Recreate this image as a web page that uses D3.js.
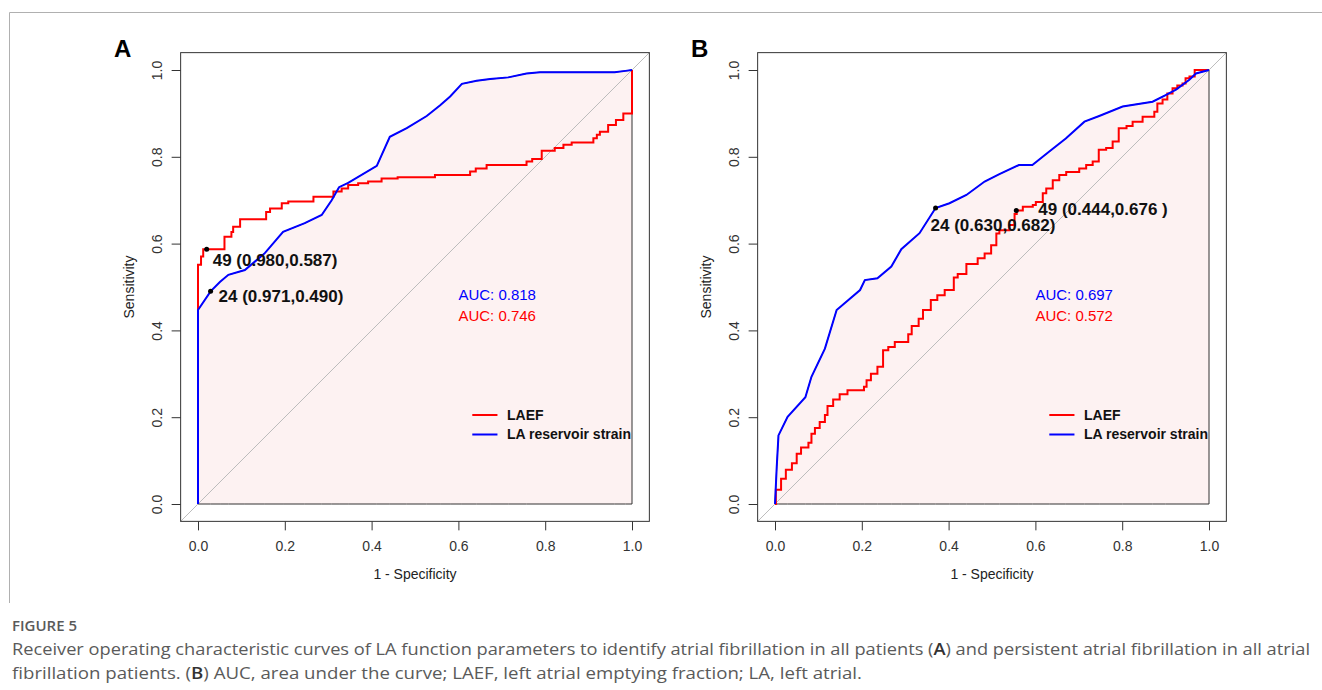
<!DOCTYPE html>
<html>
<head>
<meta charset="utf-8">
<script src="https://cdn.jsdelivr.net/npm/d3@7"></script>
<style>
  body { margin: 0; background: #fff; }
  svg { display: block; }
</style>
</head>
<body>
<svg id="chart"></svg>
<script>
// [1 - specificity, sensitivity]
const laefA = [[0,0],[0,0.551],[0.007,0.570],[0.012,0.587],[0.061,0.616],[0.077,0.627],[0.081,0.639],[0.097,0.656],
  [0.157,0.673],[0.166,0.681],[0.193,0.693],[0.208,0.697],[0.266,0.708],[0.312,0.720],[0.331,0.727],[0.346,0.735],
  [0.369,0.739],[0.392,0.743],[0.423,0.750],[0.460,0.753],[0.546,0.758],[0.627,0.766],[0.640,0.773],[0.665,0.781],
  [0.757,0.789],[0.770,0.795],[0.792,0.814],[0.822,0.820],[0.842,0.828],[0.861,0.833],[0.911,0.843],[0.919,0.851],
  [0.926,0.858],[0.945,0.873],[0.963,0.885],[0.980,0.900],[1,1]];
const strainA = [[0,0],[0,0.447],[0.029,0.490],[0.051,0.512],[0.070,0.528],[0.108,0.539],[0.154,0.578],[0.196,0.627],
  [0.246,0.647],[0.285,0.666],[0.308,0.700],[0.325,0.730],[0.346,0.740],[0.412,0.779],[0.442,0.846],[0.481,0.866],
  [0.527,0.894],[0.558,0.919],[0.581,0.939],[0.608,0.968],[0.642,0.975],[0.673,0.979],[0.715,0.983],[0.757,0.992],
  [0.788,0.995],[0.960,0.995],[0.985,0.998],[1,1]];
const laefB = [[0,0],[0.002,0.033],[0.014,0.058],[0.025,0.079],[0.039,0.094],[0.050,0.116],[0.060,0.130],[0.077,0.141],
  [0.084,0.162],[0.092,0.175],[0.103,0.189],[0.115,0.205],[0.121,0.226],[0.134,0.241],[0.149,0.253],[0.167,0.262],
  [0.205,0.270],[0.211,0.285],[0.221,0.300],[0.236,0.316],[0.249,0.354],[0.261,0.362],[0.276,0.373],[0.307,0.391],
  [0.315,0.410],[0.331,0.427],[0.341,0.447],[0.359,0.470],[0.374,0.481],[0.391,0.493],[0.412,0.522],[0.421,0.530],
  [0.441,0.553],[0.467,0.566],[0.483,0.577],[0.498,0.596],[0.510,0.623],[0.517,0.631],[0.540,0.643],[0.552,0.668],
  [0.557,0.676],[0.571,0.685],[0.594,0.689],[0.601,0.696],[0.617,0.716],[0.625,0.727],[0.640,0.746],[0.655,0.758],
  [0.671,0.765],[0.701,0.773],[0.717,0.781],[0.732,0.789],[0.746,0.816],[0.763,0.820],[0.778,0.835],[0.792,0.866],
  [0.810,0.871],[0.824,0.881],[0.847,0.892],[0.874,0.904],[0.881,0.923],[0.893,0.932],[0.904,0.946],[0.916,0.958],
  [0.927,0.964],[0.939,0.969],[0.946,0.981],[0.955,0.985],[0.967,1],[1,1]];
const strainB = [[0,0],[0.004,0.086],[0.008,0.158],[0.029,0.201],[0.070,0.246],[0.084,0.293],[0.115,0.358],[0.142,0.447],
  [0.196,0.493],[0.207,0.516],[0.236,0.520],[0.268,0.547],[0.291,0.587],[0.333,0.624],[0.370,0.682],[0.402,0.693],
  [0.441,0.712],[0.483,0.743],[0.517,0.760],[0.562,0.781],[0.593,0.781],[0.632,0.812],[0.670,0.842],[0.713,0.881],
  [0.747,0.894],[0.801,0.916],[0.870,0.927],[0.900,0.942],[0.924,0.955],[0.954,0.977],[0.970,0.992],[1,1]];

const aucA = [0.818, 0.746];   // strain, LAEF
const aucB = [0.697, 0.572];
const cutsA = [{ text: "49 (0.980,0.587)", spec: 0.980, sens: 0.587 },
               { text: "24 (0.971,0.490)", spec: 0.971, sens: 0.490 }];
const cutsB = [{ text: "24 (0.630,0.682)", spec: 0.630, sens: 0.682 },
               { text: "49 (0.444,0.676 )", spec: 0.444, sens: 0.676 }];
const seriesNames = ["LAEF", "LA reservoir strain"];
const xTicks = [0, 0.2, 0.4, 0.6, 0.8, 1.0];
const yTicks = [0, 0.2, 0.4, 0.6, 0.8, 1.0];

const RED = "#ff0000", BLUE = "#0000ff";
const FONT = "'Liberation Sans', Arial, sans-serif";

const svg = d3.select("#chart").attr("width", 1322).attr("height", 690);

// border round the figure image
svg.append("path")
  .attr("d", "M9.5,603 V12.5 H1322")
  .attr("fill", "none")
  .attr("stroke", "#b0b0b0");

const panels = [
  { id: "A", left: 198, laef: laefA, strain: strainA, auc: aucA, cuts: cutsA, shift: [[6, 11], [8, 5]] },
  { id: "B", left: 775, laef: laefB, strain: strainB, auc: aucB, cuts: cutsB, shift: [[-5, 17], [22, -2]] }
];

panels.forEach(p => {
  const x = d3.scaleLinear().domain([0, 1]).range([p.left, p.left + 434]);
  const y = d3.scaleLinear().domain([0, 1]).range([504, 70]);
  const g = svg.append("g").attr("font-family", FONT);

  // shaded area under the strain curve
  const area = d3.area().x(d => x(d[0])).y0(y(0)).y1(d => y(d[1]));
  g.append("path")
    .attr("d", area(p.strain))
    .attr("fill", "#fdf2f2")
    .attr("stroke", "#333")
    .attr("stroke-width", 1);

  // diagonal
  g.append("line")
    .attr("x1", x(-0.04)).attr("y1", y(-0.04))
    .attr("x2", x(1.04)).attr("y2", y(1.04))
    .attr("stroke", "#bdbdbd").attr("stroke-width", 1);

  // frame
  g.append("rect")
    .attr("x", x(-0.04)).attr("y", y(1.04))
    .attr("width", x(1.04) - x(-0.04)).attr("height", y(-0.04) - y(1.04))
    .attr("fill", "none").attr("stroke", "#333");

  // axes
  const xa = g.append("g")
    .attr("transform", `translate(0,${y(-0.04)})`)
    .call(d3.axisBottom(x).tickValues(xTicks).tickFormat(d3.format(".1f")).tickSize(9).tickSizeOuter(0));
  const ya = g.append("g")
    .attr("transform", `translate(${x(-0.04)},0)`)
    .call(d3.axisLeft(y).tickValues(yTicks).tickFormat(d3.format(".1f")).tickSize(9).tickSizeOuter(0));
  [xa, ya].forEach(a => {
    a.select(".domain").remove();
    a.selectAll(".tick line").attr("stroke", "#333");
    a.selectAll(".tick text").attr("font-size", 14).attr("fill", "#333").attr("font-family", FONT);
  });
  xa.selectAll(".tick text").attr("y", 25).attr("dy", "0.35em");
  ya.selectAll(".tick text")
    .attr("x", null).attr("dy", "0.35em")
    .attr("text-anchor", "middle")
    .attr("transform", "translate(-24,0) rotate(-90)");

  g.append("text")
    .attr("x", x(0.5)).attr("y", 574).attr("dy", "0.35em")
    .attr("text-anchor", "middle").attr("font-size", 14).attr("fill", "#222")
    .text("1 - Specificity");
  g.append("text")
    .attr("transform", `translate(${p.left - 69},${y(0.5)}) rotate(-90)`)
    .attr("dy", "0.35em")
    .attr("text-anchor", "middle").attr("font-size", 14).attr("fill", "#222")
    .text("Sensitivity");

  // curves
  const stepLine = d3.line().x(d => x(d[0])).y(d => y(d[1])).curve(d3.curveStepAfter);
  const smoothLine = d3.line().x(d => x(d[0])).y(d => y(d[1]));
  g.append("path").attr("d", stepLine(p.laef))
    .attr("fill", "none").attr("stroke", RED).attr("stroke-width", 2);
  g.append("path").attr("d", smoothLine(p.strain))
    .attr("fill", "none").attr("stroke", BLUE).attr("stroke-width", 2);

  // cut-off points
  p.cuts.forEach((c, i) => {
    const cx = x(1 - c.spec), cy = y(c.sens);
    g.append("circle").attr("cx", cx).attr("cy", cy).attr("r", 2.5).attr("fill", "#000");
    g.append("text")
      .attr("x", cx + p.shift[i][0]).attr("y", cy + p.shift[i][1]).attr("dy", "0.35em")
      .attr("font-size", 17).attr("font-weight", "bold").attr("fill", "#111")
      .text(c.text);
  });

  // AUC text
  [BLUE, RED].forEach((col, i) => {
    g.append("text")
      .attr("x", x(0.6)).attr("y", 295 + i * 21).attr("dy", "0.35em")
      .attr("font-size", 15).attr("fill", col)
      .text("AUC: " + d3.format(".3f")(p.auc[i]));
  });

  // legend
  [RED, BLUE].forEach((col, i) => {
    const ly = 415 + i * 19.5;
    g.append("line")
      .attr("x1", x(0.632)).attr("x2", x(0.69))
      .attr("y1", ly).attr("y2", ly)
      .attr("stroke", col).attr("stroke-width", 2);
    g.append("text")
      .attr("x", x(0.712)).attr("y", ly).attr("dy", "0.35em")
      .attr("font-size", 14).attr("font-weight", "bold").attr("fill", "#111")
      .text(seriesNames[i]);
  });

  // panel letter
  g.append("text")
    .attr("x", p.left - 84).attr("y", 57)
    .attr("font-size", 24).attr("font-weight", "bold").attr("fill", "#000")
    .text(p.id);
});

// caption
const cap = svg.append("g").attr("font-family", "'Open Sans', 'Noto Sans', sans-serif").attr("fill", "#5a5a5a");
cap.append("text").attr("x", 12).attr("y", 631)
  .attr("font-size", 14).attr("font-weight", 600)
  .attr("textLength", 65).attr("lengthAdjust", "spacingAndGlyphs")
  .text("FIGURE 5");
const l1 = cap.append("text").attr("x", 12).attr("y", 655).attr("font-size", 17)
  .attr("textLength", 1298).attr("lengthAdjust", "spacingAndGlyphs");
l1.append("tspan").text("Receiver operating characteristic curves of LA function parameters to identify atrial fibrillation in all patients (");
l1.append("tspan").attr("fill", "#333").attr("font-weight", 600).text("A");
l1.append("tspan").text(") and persistent atrial fibrillation in all atrial");
const l2 = cap.append("text").attr("x", 12).attr("y", 679).attr("font-size", 17)
  .attr("textLength", 850).attr("lengthAdjust", "spacingAndGlyphs");
l2.append("tspan").text("fibrillation patients. (");
l2.append("tspan").attr("fill", "#333").attr("font-weight", 600).text("B");
l2.append("tspan").text(") AUC, area under the curve; LAEF, left atrial emptying fraction; LA, left atrial.");
</script>
</body>
</html>
